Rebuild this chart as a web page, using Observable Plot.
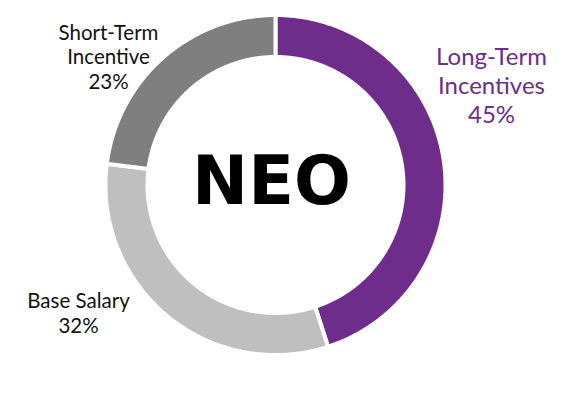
<!DOCTYPE html>
<html>
<head>
<meta charset="utf-8">
<script src="https://cdn.jsdelivr.net/npm/d3@7"></script>
<script src="https://cdn.jsdelivr.net/npm/@observablehq/plot@0.6"></script>
<style>
  html, body { margin: 0; padding: 0; background: #fff; }
</style>
</head>
<body>
<div id="chart"></div>
<script>
// Data
const categories = ["Long-Term Incentives", "Base Salary", "Short-Term Incentive"];
const values = [45, 32, 23];
const labelLines = [["Long-Term", "Incentives"], ["Base Salary"], ["Short-Term", "Incentive"]];
const centerTitle = "NEO";

// Styles
const colors = ["#6E2C8B", "#BFBFBF", "#7F7F7F"];
const labelColors = ["#6E2C8B", "#111111", "#111111"];

const W = 570, H = 393;
const cx = 275, cy = 184.5;       // ring centre in pixels
const rOuter = 170, rInner = 128;  // stroked by 2px white on each edge

const rows = categories.map((c, i) => ({cat: c, value: values[i]}));
const arcs = d3.pie().sort(null).value(d => d.value)(rows);

// polygon points for each ring slice (data units: pixels around centre, y up)
const pts = [];
for (const a of arcs) {
  const n = Math.max(8, Math.ceil((a.endAngle - a.startAngle) / (Math.PI / 360)));
  for (let k = 0; k <= n; k++) {
    const t = a.startAngle + (a.endAngle - a.startAngle) * k / n;
    pts.push({cat: a.data.cat, x: rOuter * Math.sin(t), y: rOuter * Math.cos(t)});
  }
  for (let k = n; k >= 0; k--) {
    const t = a.startAngle + (a.endAngle - a.startAngle) * k / n;
    pts.push({cat: a.data.cat, x: rInner * Math.sin(t), y: rInner * Math.cos(t)});
  }
  const t = a.startAngle;
  pts.push({cat: a.data.cat, x: rOuter * Math.sin(t), y: rOuter * Math.cos(t)});
}

// label layout (pixel positions)
const labelPos = {
  "Long-Term Incentives": {px: 491, py: 84, size: 24},
  "Base Salary": {px: 78, py: 312, size: 20.5},
  "Short-Term Incentive": {px: 108, py: 56, size: 20.5}
};
const labelRows = categories.map((c, i) => ({
  cat: c,
  text: labelLines[i].join("\n") + "\n" + values[i] + "%",
  x: labelPos[c].px - cx,
  y: cy - labelPos[c].py,
  size: labelPos[c].size,
  color: labelColors[i]
}));

const chart = Plot.plot({
  width: W,
  height: H,
  margin: 0,
  x: {domain: [-cx, W - cx], axis: null},
  y: {domain: [-(H - cy), cy], axis: null},
  color: {domain: categories, range: colors},
  style: {background: "#fff", fontFamily: "Lato, 'Open Sans', sans-serif"},
  marks: [
    Plot.line(pts, {x: "x", y: "y", z: "cat", fill: "cat", stroke: "#fff", strokeWidth: 4, strokeLinejoin: "miter"}),
    ...labelRows.map(d => Plot.text([d], {
      x: "x", y: "y", text: "text",
      fill: d.color, fontSize: d.size, lineHeight: 1.2,
      fontFamily: "Lato, 'Open Sans', sans-serif"
    })),
    Plot.text([centerTitle], {
      x: () => -4, y: () => 2, text: d => d,
      fill: "#000", fontSize: 67, fontWeight: 700,
      fontFamily: "'DejaVu Sans', sans-serif"
    })
  ]
});
document.getElementById("chart").appendChild(chart);
</script>
</body>
</html>
